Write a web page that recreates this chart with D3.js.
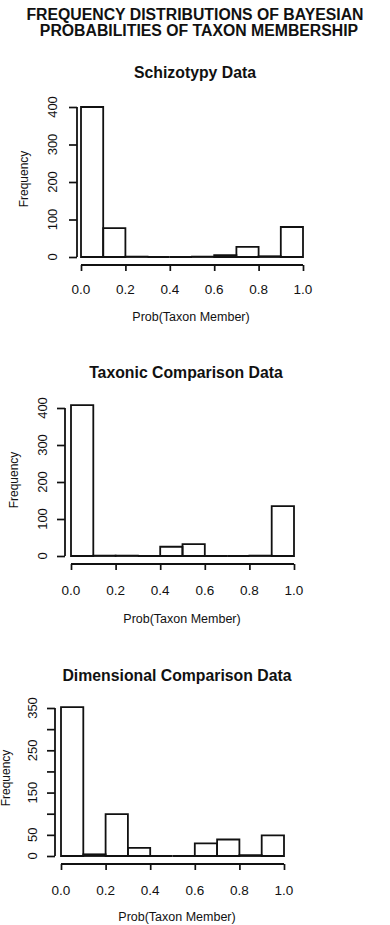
<!DOCTYPE html>
<html>
<head>
<meta charset="utf-8">
<script src="https://cdn.jsdelivr.net/npm/d3@7/dist/d3.min.js"></script>
<style>
body{margin:0;background:#fff;}
svg text{font-family:"Liberation Sans",Arial,sans-serif;fill:#111;}
</style>
</head>
<body>
<div id="main"></div>
<script>
// histogram bins (lower / upper edges)
var bin_lo = [0.0,0.1,0.2,0.3,0.4,0.5,0.6,0.7,0.8,0.9];
var bin_hi = [0.1,0.2,0.3,0.4,0.5,0.6,0.7,0.8,0.9,1.0];

// counts
var schizotypy_counts  = [400,77,1,0,0,1,5,27,2,80];
var taxonic_counts     = [408,1,1,0,25,32,0,0,1,135];
var dimensional_counts = [352,4,99,19,0,0,30,39,2,49];

var x_ticks = [0.0,0.2,0.4,0.6,0.8,1.0];
var x_tick_labels = ["0.0","0.2","0.4","0.6","0.8","1.0"];
var y_ticks_400 = [0,100,200,300,400];
var y_ticks_350 = [0,50,100,150,200,250,300,350];
var y_labels_350 = [0,50,150,250,350];

var main_title = ["FREQUENCY DISTRIBUTIONS OF BAYESIAN","PROBABILITIES OF TAXON MEMBERSHIP"];
var panel_titles = ["Schizotypy Data","Taxonic Comparison Data","Dimensional Comparison Data"];
var x_title = "Prob(Taxon Member)";
var y_title = "Frequency";

var width = 390, height = 925;
var ink = "#111";

var svg = d3.select("#main").append("svg")
	.attr("width",width).attr("height",height);

svg.selectAll("text.main_title")
	.data(main_title).enter()
	.append("text").attr("class","main_title")
	.attr("x",function(d,i){return i==0 ? 195 : 199;})
	.attr("y",function(d,i){return 20+i*16;})
	.attr("text-anchor","middle")
	.style("font-weight","bold").style("font-size","15.8px")
	.text(function(d){return d;});

function draw_hist(counts,y_ticks,y_labels,ymax,p){
	var x = d3.scaleLinear().domain([0,1]).range([p.x0,p.x1]);
	var y = d3.scaleLinear().domain([0,ymax]).range([p.y0,p.ytop]);
	var g = svg.append("g");

	g.append("text")
		.attr("x",p.title_x).attr("y",p.title_y)
		.attr("text-anchor","middle")
		.style("font-weight","bold").style("font-size","15.8px")
		.text(p.title);

	// bars; drawn as closed paths so empty bins still show a flat line
	g.selectAll("path.bar")
		.data(counts).enter()
		.append("path").attr("class","bar")
		.attr("d",function(d,i){
			var a = x(bin_lo[i]), b = x(bin_hi[i]);
			return "M"+a+","+y(0)+"V"+y(d)+"H"+b+"V"+y(0)+"Z";
		})
		.attr("fill","none").attr("stroke",ink).attr("stroke-width",1.8);

	// y axis
	var ya = g.append("g")
		.attr("transform","translate("+p.axis_x+",0)")
		.call(d3.axisLeft(y).tickValues(y_ticks).tickSize(8).tickFormat(""));
	ya.select(".domain").attr("stroke",ink).attr("stroke-width",1.8)
		.attr("d","M0,"+y(0)+"V"+y(d3.max(y_ticks)));
	ya.selectAll(".tick line").attr("stroke",ink).attr("stroke-width",1.7);

	g.selectAll("text.ylab")
		.data(y_labels).enter()
		.append("text").attr("class","ylab")
		.attr("transform",function(d){return "translate("+p.ylab_x+","+y(d)+") rotate(-90)";})
		.attr("text-anchor","middle").attr("dy","0.36em")
		.style("font-size","13px")
		.text(function(d){return d;});

	// x axis
	var xa = g.append("g")
		.attr("transform","translate(0,"+p.axis_y+")")
		.call(d3.axisBottom(x).tickValues(x_ticks).tickSize(6).tickFormat(""));
	xa.select(".domain").attr("stroke",ink).attr("stroke-width",1.8)
		.attr("d","M"+x(0)+",0H"+x(1));
	xa.selectAll(".tick line").attr("stroke",ink).attr("stroke-width",1.7);

	g.selectAll("text.xlab")
		.data(x_ticks).enter()
		.append("text").attr("class","xlab")
		.attr("x",function(d){return x(d);})
		.attr("y",p.xlab_y)
		.attr("text-anchor","middle")
		.style("font-size","13.5px")
		.text(function(d,i){return x_tick_labels[i];});

	g.append("text")
		.attr("x",p.xtitle_x).attr("y",p.xtitle_y)
		.attr("text-anchor","middle")
		.style("font-size","12.5px")
		.text(x_title);

	g.append("text")
		.attr("transform","translate("+p.ytitle_x+","+p.ytitle_y+") rotate(-90)")
		.attr("text-anchor","middle").attr("dy","0.36em")
		.style("font-size","12px")
		.text(y_title);
}

draw_hist(schizotypy_counts,y_ticks_400,y_ticks_400,400,{
	title:panel_titles[0], title_x:195, title_y:78,
	x0:81, x1:303, y0:257, ytop:107,
	axis_x:77, axis_y:265, ylab_x:52, xlab_y:294,
	xtitle_x:191, xtitle_y:321, ytitle_x:24, ytitle_y:179
});

draw_hist(taxonic_counts,y_ticks_400,y_ticks_400,400,{
	title:panel_titles[1], title_x:186, title_y:378,
	x0:71, x1:294, y0:556, ytop:408,
	axis_x:65, axis_y:564, ylab_x:42, xlab_y:595,
	xtitle_x:182, xtitle_y:623, ytitle_x:14, ytitle_y:480
});

draw_hist(dimensional_counts,y_ticks_350,y_labels_350,350,{
	title:panel_titles[2], title_x:177, title_y:681,
	x0:61, x1:284, y0:856, ytop:708,
	axis_x:55, axis_y:864, ylab_x:32, xlab_y:895,
	xtitle_x:177, xtitle_y:921, ytitle_x:6, ytitle_y:778
});
</script>
</body>
</html>
